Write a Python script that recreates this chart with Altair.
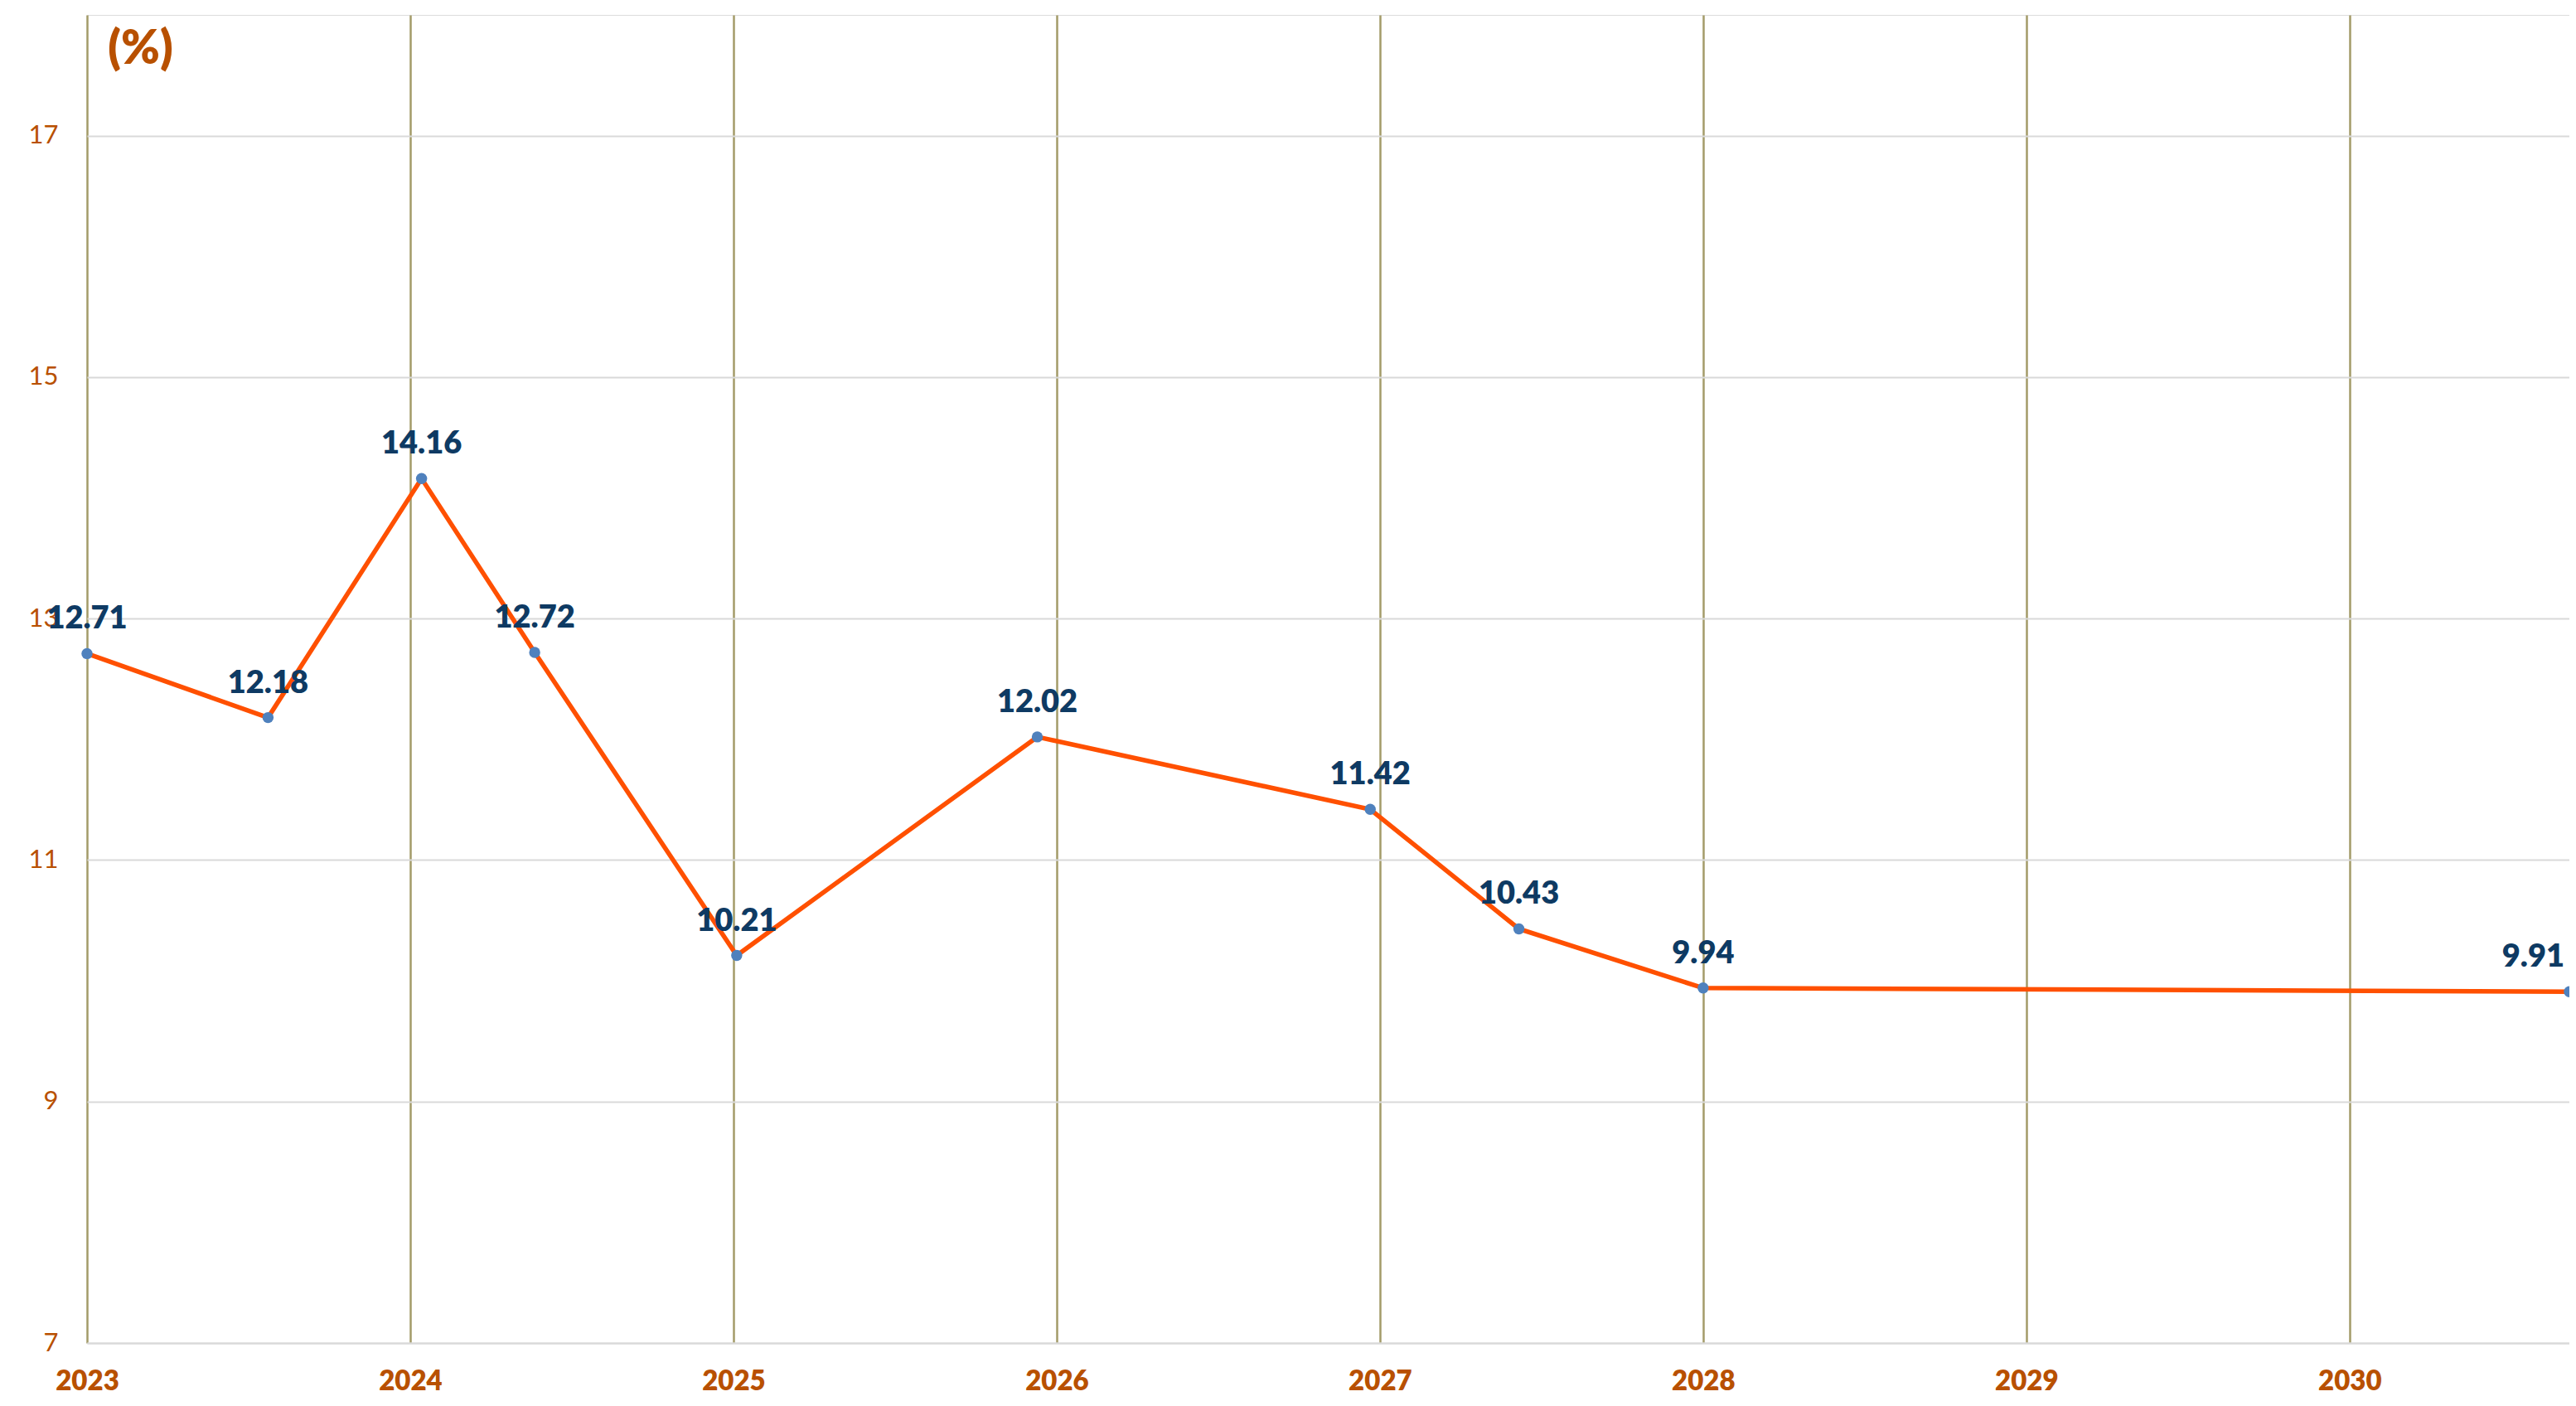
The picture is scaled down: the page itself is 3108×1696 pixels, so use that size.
import altair as alt
import pandas as pd

# data
times = [2023.0, 2023.56, 2024.035, 2024.385, 2025.01, 2025.94, 2026.97, 2027.43, 2028.0, 2030.68]
values = [12.71, 12.18, 14.16, 12.72, 10.21, 12.02, 11.42, 10.43, 9.94, 9.91]
labels = ["12.71", "12.18", "14.16", "12.72", "10.21", "12.02", "11.42", "10.43", "9.94", "9.91"]
year_ticks = [2023, 2024, 2025, 2026, 2027, 2028, 2029, 2030]
y_ticks = [7, 9, 11, 13, 15, 17]

df = pd.DataFrame({"t": times, "v": values, "label": labels})

ORANGE_TXT = "#B85000"
LINE = "#FF5000"
POINT = "#4F81BD"
NAVY = "#0E3A63"
FONT = "Lato"

x = alt.X(
    "t:Q",
    scale=alt.Scale(domain=[2023, 2030.68], nice=False, zero=False),
    axis=alt.Axis(
        values=year_ticks, format="d", title=None,
        labelFontSize=33, labelFontWeight=800, labelColor=ORANGE_TXT, labelFont=FONT,
        labelPadding=30, tickSize=0, labelFlush=False,
        grid=True, gridColor="#A39B69", gridWidth=2.5,
        domain=True, domainColor="#D9D9D9", domainWidth=2,
    ),
)
y = alt.Y(
    "v:Q",
    scale=alt.Scale(domain=[7, 18], nice=False, zero=False),
    axis=alt.Axis(
        values=y_ticks, format="d",
        title="(%)", titleAngle=0, titleX=64, titleY=41, titleAlign="center",
        titleBaseline="middle", titleFontSize=56, titleFontWeight=800,
        titleColor=ORANGE_TXT, titleFont=FONT,
        labelFontSize=31, labelColor=ORANGE_TXT, labelFont=FONT,
        labelPadding=35, tickSize=0, labelFlush=False,
        grid=True, gridColor="#D9D9D9", gridWidth=2, domain=False,
    ),
)

base = alt.Chart(df)
line = base.mark_line(color=LINE, strokeWidth=5.5).encode(x=x, y=y)
pts = base.mark_point(filled=True, color=POINT, opacity=1, size=180).encode(x=x, y=y)
txt = base.transform_filter("datum.t < 2030").mark_text(
    font=FONT, fontSize=38, fontWeight=800, color=NAVY, baseline="alphabetic", dy=-30
).encode(x=x, y=y, text="label:N")
txt_last = base.transform_filter("datum.t >= 2030").mark_text(
    font=FONT, fontSize=38, fontWeight=800, color=NAVY, baseline="alphabetic", dy=-30,
    align="right", dx=-6
).encode(x=x, y=y, text="label:N")

chart = (line + pts + txt + txt_last).properties(
    width=2995, height=1602,
    autosize=alt.AutoSizeParams(type="none"),
    padding={"left": 97, "top": 10, "right": 0, "bottom": 70},
).configure_view(stroke=None).configure(background="white")

chart.save("out.html", embed_options={"renderer": "svg", "actions": False})
